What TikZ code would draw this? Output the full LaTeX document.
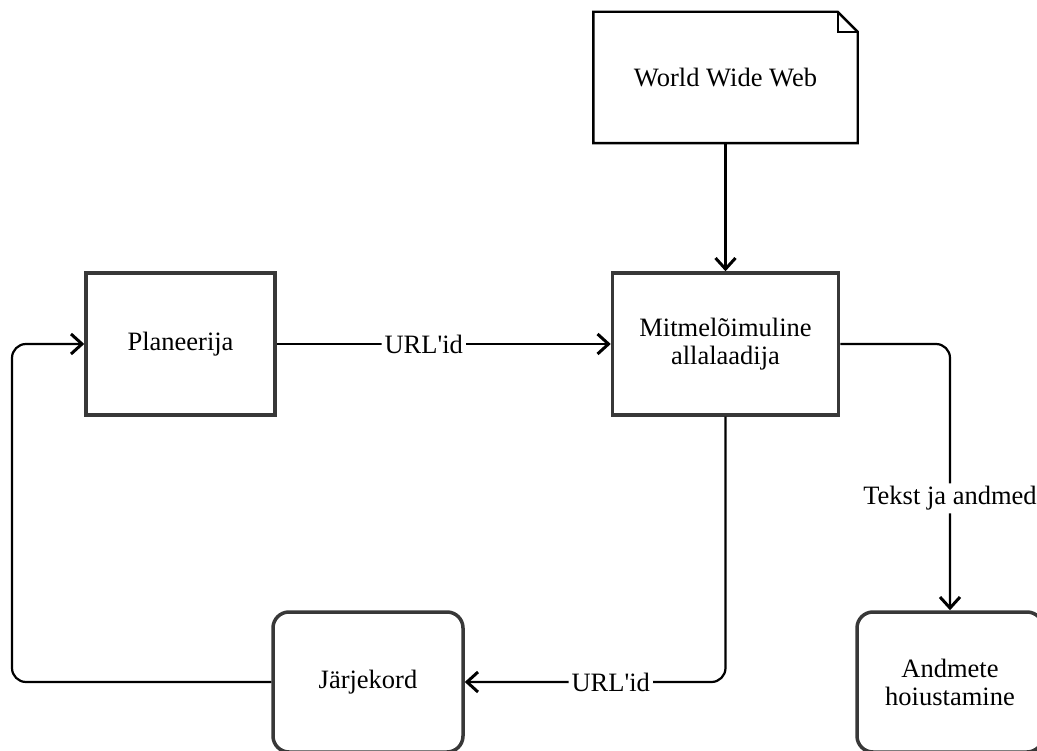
\documentclass[tikz,border=0pt]{standalone}
\usepackage{fontspec}
\setmainfont{Liberation Serif}
\usetikzlibrary{arrows.meta, calc}

\begin{document}
\begin{tikzpicture}[x=1pt, y=-1pt,
    txt/.style={font=\fontsize{26.5}{28}\selectfont},
    box/.style={txt, draw=black!78, line width=3.5pt, minimum height=142pt, align=center},
    roundbox/.style={box, rounded corners=16pt, minimum width=190pt, minimum height=140pt},
    flow/.style={line width=2.2pt, rounded corners=14pt, -{Straight Barb[length=11pt, width=20pt, line width=3pt]}},
    flowlabel/.style={txt, fill=white, inner sep=3pt}]
  \useasboundingbox (0,0) rectangle (1037,751);
  % Web source with folded corner
  \node[txt, minimum width=264pt, minimum height=131pt, inner sep=0pt] (www) at (725.5,77.5) {World Wide Web};
  \draw[line width=2.4pt] (www.north west) -- ($(www.north east)+(-20,0)$) -- ($(www.north east)+(0,20)$)
    -- (www.south east) -- (www.south west) -- cycle;
  \draw[line width=2.4pt] ($(www.north east)+(-20,0)$) -- ($(www.north east)+(-20,20)$) -- ($(www.north east)+(0,20)$);
  % Components
  \node[box, minimum width=189pt] (plan) at (180.5,344) {Planeerija};
  \node[box, minimum width=226pt] (dl) at (725.5,344) {Mitmelõimuline\\allalaadija};
  \node[roundbox] (queue) at (368,682) {Järjekord};
  \node[roundbox, minimum width=186pt] (store) at (950,682) {Andmete\\hoiustamine};
  \coordinate (loop) at (12,682);
  % Data flow
  \draw[flow] (www.south) -- (dl.north);
  \draw[flow] (plan.east) -- node[flowlabel, pos=0.44] {URL\textquotesingle id} (dl.west);
  \draw[flow] (dl.east) -| node[flowlabel, pos=0.79] {Tekst ja andmed} (store.north);
  \draw[flow] (dl.south) |- node[flowlabel, pos=0.72] {URL\textquotesingle id} (queue.east);
  \draw[flow] (queue.west) -- (loop) |- (plan.west);
\end{tikzpicture}
\end{document}
